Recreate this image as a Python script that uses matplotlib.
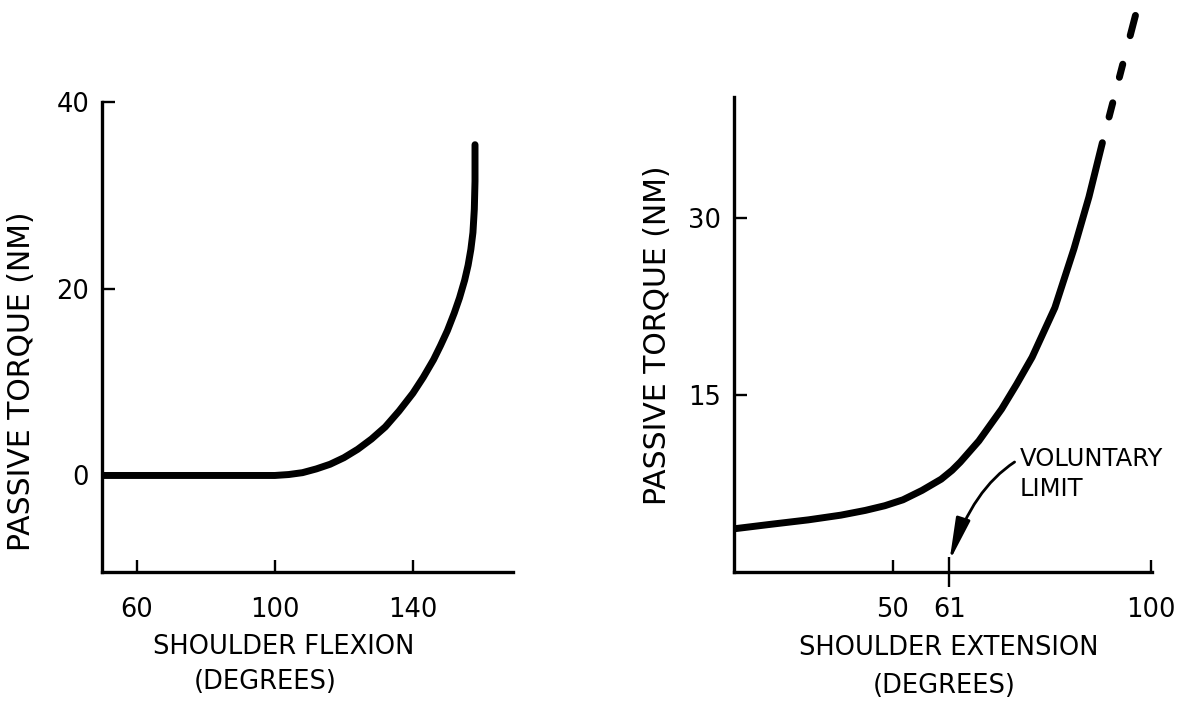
import matplotlib
matplotlib.use('Agg')
import matplotlib.pyplot as plt

# --- DATA ---
# Left panel: passive torque vs shoulder flexion
FLEX_DEG = [50, 70, 90, 100, 104, 108, 112, 116, 120, 124, 128, 132, 136,
            140, 143, 146, 148, 150, 152, 153.5, 155, 156, 156.8, 157.4,
            157.8, 158.0, 158.0]
FLEX_TORQUE = [0, 0, 0, 0, 0.1, 0.3, 0.7, 1.2, 1.9, 2.8, 3.9, 5.2, 6.9,
               8.8, 10.5, 12.4, 13.9, 15.5, 17.4, 19.0, 20.9, 22.5, 24.2,
               26.0, 28.5, 31.5, 35.4]
FLEX_XTICKS = [60, 100, 140]
FLEX_YTICKS = [0, 20, 40]

# Right panel: passive torque vs shoulder extension
EXT_DEG = [19.3, 26, 33.7, 40, 44.7, 48.5, 52.0, 55.7, 59.4, 61.5, 63.1,
           66.7, 71.1, 74, 77.0, 81.4, 85.1, 88.0, 90.6]
EXT_TORQUE = [3.64, 4.0, 4.4, 4.8, 5.2, 5.6, 6.1, 6.9, 7.85, 8.6, 9.3,
              11.1, 13.8, 15.9, 18.2, 22.4, 27.4, 31.8, 36.4]
EXT_DASH_DEG = [90.6, 97.0]        # extrapolated part (dashed)
EXT_DASH_TORQUE = [36.4, 47.2]
EXT_XTICKS = [50, 100]
EXT_LIMIT = 61                     # voluntary limit
EXT_YTICKS = [15, 30]

plt.rcParams['font.family'] = ['DejaVu Sans']
plt.rcParams['lines.scale_dashes'] = False

LABEL_SIZE = 18.5
YLABEL_SIZE = 21.5


def style_axes(ax):
    """Only left/bottom lines, ticks pointing inward."""
    for side in ('top', 'right'):
        ax.spines[side].set_visible(False)
    for side in ('left', 'bottom'):
        ax.spines[side].set_linewidth(2.4)
    ax.tick_params(direction='in', length=9, width=1.7, labelsize=LABEL_SIZE)
    ax.tick_params(axis='x', pad=18)
    ax.tick_params(axis='y', pad=9)


fig = plt.figure(figsize=(11.96, 7.02), dpi=100)
ax1 = fig.add_axes([0.0850, 0.1856, 0.3439, 0.6695])
ax2 = fig.add_axes([0.6137, 0.1856, 0.3495, 0.6766])

# ---------------------------------------------------------
# Left: shoulder flexion
# ---------------------------------------------------------
ax1.plot(FLEX_DEG, FLEX_TORQUE, color='black', lw=5,
         solid_capstyle='round', solid_joinstyle='round')
ax1.set_xlim(49.8, 169)
ax1.set_ylim(-10.3, 40)
ax1.set_xticks(FLEX_XTICKS)
ax1.set_yticks(FLEX_YTICKS)
style_axes(ax1)

ax1.set_ylabel('PASSIVE TORQUE (NM)', fontsize=YLABEL_SIZE, va='center')
ax1.yaxis.set_label_coords(-0.194, 0.406)
ax1.text(0.443, -0.160, 'SHOULDER FLEXION', transform=ax1.transAxes,
         ha='center', va='center', fontsize=LABEL_SIZE)
ax1.text(0.398, -0.235, '(DEGREES)', transform=ax1.transAxes,
         ha='center', va='center', fontsize=LABEL_SIZE)

# ---------------------------------------------------------
# Right: shoulder extension
# ---------------------------------------------------------
ax2.plot(EXT_DEG, EXT_TORQUE, color='black', lw=5,
         solid_capstyle='round', solid_joinstyle='round')
# uneven dashes so the last dash runs up to the end, like the original
dash_seq = (10.6, 18.9, 9.8, 21.2, 21.6, 19.1)
ax2.plot(EXT_DASH_DEG, EXT_DASH_TORQUE, color='black', lw=5,
         linestyle=(sum(dash_seq[:5]), dash_seq), dash_capstyle='round',
         clip_on=False)
ax2.set_xlim(19.3, 100.2)
ax2.set_ylim(0, 40.3)
ax2.set_xticks(EXT_XTICKS)
ax2.set_yticks(EXT_YTICKS)
style_axes(ax2)
ax2.set_xticks([EXT_LIMIT], minor=True)
ax2.set_xticklabels([str(EXT_LIMIT)], minor=True)
ax2.tick_params(axis='x', which='minor', direction='inout', length=21.6,
                width=1.7, pad=7.2, labelsize=LABEL_SIZE)

ax2.set_ylabel('PASSIVE TORQUE (NM)', fontsize=YLABEL_SIZE, va='center')
ax2.yaxis.set_label_coords(-0.184, 0.498)
ax2.text(0.514, -0.161, 'SHOULDER EXTENSION', transform=ax2.transAxes,
         ha='center', va='center', fontsize=LABEL_SIZE)
ax2.text(0.502, -0.241, '(DEGREES)', transform=ax2.transAxes,
         ha='center', va='center', fontsize=LABEL_SIZE)

ax2.annotate('VOLUNTARY\nLIMIT', xy=(EXT_LIMIT, 0.9), xytext=(74.6, 8.3),
             ha='left', va='center', fontsize=17.5, linespacing=1.3,
             arrowprops=dict(arrowstyle='-|>,head_length=1.3,head_width=0.22',
                             connectionstyle='angle3,angleA=30,angleB=72',
                             color='black', lw=2, relpos=(0, 0.78),
                             shrinkA=2, shrinkB=0, mutation_scale=20))

fig.savefig('out.png', dpi=100)
